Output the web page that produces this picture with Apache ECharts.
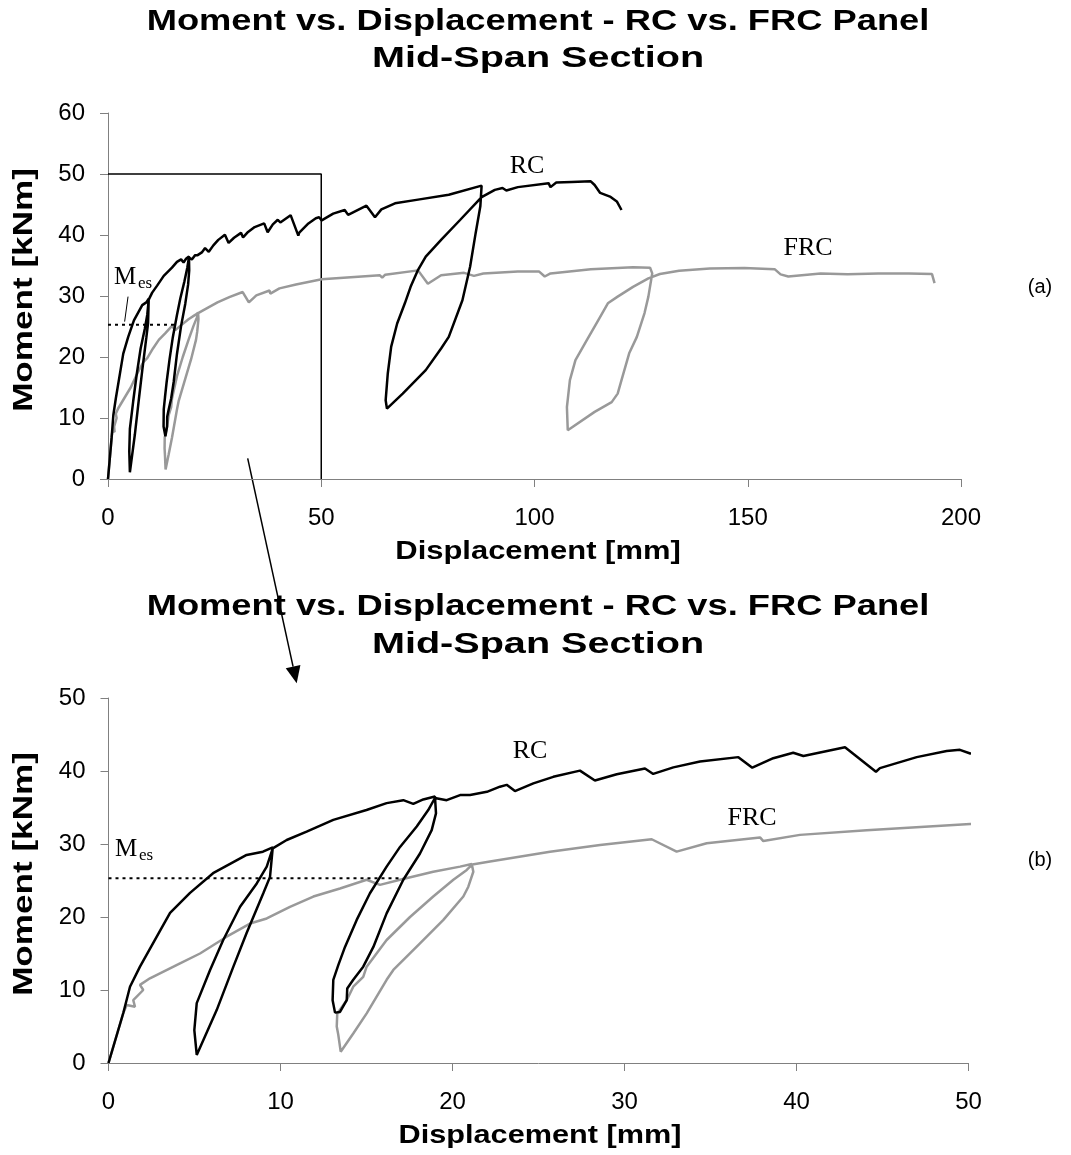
<!DOCTYPE html>
<html>
<head>
<meta charset="utf-8">
<script src="https://cdn.jsdelivr.net/npm/echarts@6/dist/echarts.min.js"></script>
<style>html,body{margin:0;padding:0;background:#fff}#c{width:1071px;height:1155px}</style>
</head>
<body>
<div id="c"></div>
<script>
// ---- data (displacement [mm], moment [kNm]) ----
const rcData = [
 [0,0],[0.86,6.85],[1.25,10.45],[1.83,13.2],[3.09,18.5],[3.58,20.55],[4.74,23.3],[6.08,26.0],[8.03,28.5],[8.98,28.95],[9.55,29.55],
 [9.39,25.5],[9.0,23.25],[8.03,17.8],[7.26,13.2],[6.29,7.25],[5.13,1.1],
 [4.99,4.5],[5.13,8.2],[5.9,12.7],[6.67,16.85],[7.65,21.4],[8.62,24.6],[9.2,26.9],[9.55,29.4],
 [10.36,30.55],[11.52,31.7],[13.07,33.3],[15.0,34.65],[16.17,35.6],[17.14,36.0],[17.72,35.5],[18.3,36.1],[18.98,36.5],
 [19.04,34.2],[18.79,31.9],[18.11,28.7],[17.14,25.1],[16.17,20.5],[15.4,15.9],[14.81,13.2],[14.23,11.4],[13.88,10.2],[13.85,8.6],[13.46,7.0],[13.17,6.9],
 [13.03,8.6],[13.07,11.4],[13.36,13.4],[13.75,15.9],[14.43,19.6],[15.2,23.25],[16.17,26.9],[16.95,29.6],[17.92,32.4],[18.59,34.65],[18.98,36.3],
 [19.66,36.0],[20.44,36.7],[21.02,36.7],[22.0,37.15],[22.76,37.85],[23.15,38.1],[23.63,37.25],[24.7,38.3],[25.86,39.2],[27.41,40.05],[28.28,38.7],
 [29.55,39.55],[31.19,40.35],[31.67,39.6],[32.84,40.5],[34.39,41.3],[36.62,41.9],[37.43,40.45],[38.65,41.75],[39.81,42.5],[40.4,42.05],
 [42.82,43.25],[44.62,39.9],[44.85,40.4],[46.99,41.9],[48.73,42.75],[49.5,42.9],[50.1,42.4],
 [52.8,43.5],[55.5,44.1],[56.3,43.3],[60.6,44.8],[62.6,42.9],[64.1,44.2],[67.3,45.2],[72.7,45.8],[79.9,46.6],[87.6,48.1],
 [87.3,44.7],[86.2,40.3],[84.9,34.8],[83.1,29.3],[79.9,23.3],[78.1,21.4],[74.5,17.85],[69.1,14.0],[65.4,11.55],
 [65.1,12.9],[65.6,17.3],[66.4,21.7],[67.8,25.5],[69.6,28.8],[70.95,31.5],[72.7,34.3],[74.5,36.45],[78.1,39.2],[82.6,42.5],[87.6,46.2],
 [90.7,47.4],[92.5,47.7],[93.4,47.3],[96.1,47.85],[103.3,48.5],[103.75,47.85],[105.1,48.6],[108.7,48.7],[113.2,48.8],[114.1,48.2],
 [115.4,46.9],[117.7,46.3],[119.3,45.5],[120.4,44.1]
];
const frcData = [
 [0,0],[0.86,6.85],[1.06,7.95],[1.54,7.7],[1.44,8.6],[2.02,10.0],[1.83,10.7],[2.41,11.6],[4.16,13.65],[5.32,15.0],[6.87,17.3],[8.23,19.1],
 [9.2,19.8],[10.55,21.4],[11.91,22.8],[13.46,23.9],[15.01,25.1],[15.78,24.4],[16.95,25.1],[18.88,26.2],[20.44,26.9],[21.12,27.25],
 [21.21,26.2],[20.92,24.15],[20.63,22.8],[19.47,19.6],[18.11,16.4],[16.56,12.75],[16.17,11.4],[15.01,6.8],[14.23,4.05],[13.5,1.55],
 [13.36,3.85],[13.27,5.0],[13.3,6.8],[13.85,8.6],[14.23,10.45],[14.81,11.8],[15.01,13.2],[16.17,16.85],[17.53,20.0],[18.88,22.8],[20.05,25.1],[20.83,26.45],[21.15,27.2],
 [22.18,27.6],[25.67,28.95],[28.58,29.85],[31.58,30.65],[33.03,28.95],[34.78,30.1],[37.88,30.9],[38.07,30.4],[40.2,31.25],[44.08,31.9],[50.1,32.75],
 [63.75,33.4],[64.3,33.0],[65.0,33.5],[72.7,34.2],[75.0,32.0],[78.1,33.4],[83.5,33.8],[85.8,33.3],[88.0,33.7],[96.1,34.0],[101.1,34.0],[102.4,33.2],
 [103.75,33.7],[113.2,34.4],[123.1,34.7],[127.1,34.65],
 [127.6,33.7],[126.7,29.9],[125.8,27.2],[124.0,23.3],[122.2,20.6],[120.4,16.2],[119.5,14.0],[118.1,12.6],[114.1,11.0],[107.8,8.0],
 [107.6,11.8],[108.3,16.2],[109.6,19.5],[112.3,22.8],[115.0,26.1],[117.2,28.8],[119.5,29.9],[123.1,31.5],[126.7,32.9],[129.4,33.6],
 [133.9,34.15],[141.1,34.5],[149.2,34.6],[156.3,34.4],[157.7,33.55],[159.5,33.2],[167.1,33.7],[173.4,33.55],[180.6,33.7],[187.8,33.7],[193.2,33.6],[193.8,32.1]
];
const mesValue = 25.3;          // M_es level [kNm]
const mesEndTop = 15.7;         // dotted line end, chart (a)
const mesEndBottom = 17.1;      // dotted line end, chart (b)
const zoomBox = [[0,50],[50,50],[50,0]];   // 0-50 mm box on chart (a)
const mesLeader = [[4.7,29.9],[3.9,25.8]];
const axisA = {xMax:200, xStep:50, yMax:60, yStep:10};
const axisB = {xMax:50, xStep:10, yMax:50, yStep:10};
const titleLine1 = 'Moment vs. Displacement - RC vs. FRC Panel';
const titleLine2 = 'Mid-Span Section';

const SANS = "'Liberation Sans', Arial, sans-serif";
const SERIF = "'Liberation Serif', 'Times New Roman', serif";
const chart = echarts.init(document.getElementById('c'), null, {renderer:'canvas'});

function xAx(idx, a){
  return {type:'value', gridIndex:idx, min:0, max:a.xMax, interval:a.xStep,
    axisLine:{show:true, onZero:false, lineStyle:{color:'#808080', width:1}},
    axisTick:{show:true, length:8, lineStyle:{color:'#808080'}},
    splitLine:{show:false},
    axisLabel:{color:'#000', fontSize:24, fontFamily:SANS, margin:27}};
}
function yAx(idx, a){
  return {type:'value', gridIndex:idx, min:0, max:a.yMax, interval:a.yStep,
    axisLine:{show:true, onZero:false, lineStyle:{color:'#808080', width:1}},
    axisTick:{show:true, length:8, lineStyle:{color:'#808080'}},
    splitLine:{show:false},
    axisLabel:{color:'#000', fontSize:24, fontFamily:SANS, margin:23}};
}
function line(idx, data, color, width, type, z){
  return {type:'line', xAxisIndex:idx, yAxisIndex:idx, data:data, showSymbol:false, symbol:'none',
    lineStyle:{color:color, width:width, type:type||'solid'}, z:z||2, silent:true, clip:true};
}
function txt(x, y, text, font, extra){
  return Object.assign({type:'text', x:x, y:y, silent:true,
    style:{text:text, font:font, fill:'#000', align:'center', verticalAlign:'middle',
      textAlign:'center', textVerticalAlign:'middle'}}, extra||{});
}
const arrowTip = [296.7, 683.3], arrowStart = [247.7, 458.3];
const dx = arrowTip[0]-arrowStart[0], dy = arrowTip[1]-arrowStart[1];
const L = Math.sqrt(dx*dx+dy*dy), ux = dx/L, uy = dy/L;
const hl = 17, hw = 7.5;
const bx = arrowTip[0]-ux*hl, by = arrowTip[1]-uy*hl;

chart.setOption({
  animation:false,
  backgroundColor:'#fff',
  grid:[{left:108, top:113, width:853, height:366},{left:108.5, top:698, width:860, height:365}],
  xAxis:[xAx(0,axisA), xAx(1,axisB)],
  yAxis:[yAx(0,axisA), yAx(1,axisB)],
  series:[
    line(0, zoomBox, '#000', 1.5, 'solid', 1),
    line(0, frcData, '#999999', 2.5, 'solid', 2),
    line(0, rcData, '#000', 2.5, 'solid', 3),
    line(0, [[0,mesValue],[mesEndTop,mesValue]], '#000', 2, [3,4], 4),
    line(0, mesLeader, '#000', 1, 'solid', 4),
    line(1, frcData, '#999999', 2.5, 'solid', 2),
    line(1, rcData, '#000', 2.5, 'solid', 3),
    line(1, [[0,mesValue],[mesEndBottom,mesValue]], '#000', 2, [3,4], 4)
  ],
  graphic:[
    txt(538, 22, titleLine1, 'bold 30px '+SANS, {scaleX:1.21}),
    txt(538, 59, titleLine2, 'bold 30px '+SANS, {scaleX:1.32}),
    txt(538, 607, titleLine1, 'bold 30px '+SANS, {scaleX:1.21}),
    txt(538, 645, titleLine2, 'bold 30px '+SANS, {scaleX:1.32}),
    txt(538, 552, 'Displacement [mm]', 'bold 26px '+SANS, {scaleX:1.19}),
    txt(540, 1136, 'Displacement [mm]', 'bold 26px '+SANS, {scaleX:1.18}),
    txt(25, 290, 'Moment [kNm]', 'bold 27px '+SANS, {rotation:Math.PI/2, scaleX:1.3}),
    txt(25, 874, 'Moment [kNm]', 'bold 27px '+SANS, {rotation:Math.PI/2, scaleX:1.3}),
    txt(1040, 287, '(a)', '20px '+SANS),
    txt(1040, 860, '(b)', '20px '+SANS),
    txt(527, 166, 'RC', '26px '+SERIF),
    txt(808, 248, 'FRC', '26px '+SERIF),
    txt(530, 751, 'RC', '26px '+SERIF),
    txt(752, 818, 'FRC', '26px '+SERIF),
    txt(125, 277, 'M', '25px '+SERIF),
    txt(145, 284, 'es', '17px '+SERIF),
    txt(126, 849, 'M', '25px '+SERIF),
    txt(146, 856, 'es', '17px '+SERIF),
    {type:'line', silent:true, shape:{x1:arrowStart[0], y1:arrowStart[1], x2:bx, y2:by}, style:{stroke:'#000', lineWidth:1.5}},
    {type:'polygon', silent:true, shape:{points:[[arrowTip[0],arrowTip[1]],[bx+uy*hw, by-ux*hw],[bx-uy*hw, by+ux*hw]]}, style:{fill:'#000'}}
  ]
});
</script>
</body>
</html>
